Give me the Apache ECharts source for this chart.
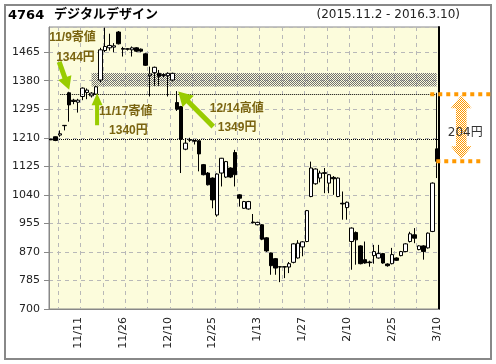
<!DOCTYPE html>
<html><head><meta charset="utf-8">
<script src="https://cdn.jsdelivr.net/npm/echarts@6/dist/echarts.min.js"></script>
<style>html,body{margin:0;padding:0;background:#fff}#c{width:496px;height:364px}</style>
</head><body><div id="c"></div>
<script>
// ---- data ----
const dates = ['11/2','11/4','11/5','11/6','11/9','11/10','11/11','11/12','11/13','11/16','11/17','11/18','11/19','11/20','11/24','11/25','11/26','11/27','11/30',
'12/1','12/2','12/3','12/4','12/7','12/8','12/9','12/10','12/11','12/14','12/15','12/16','12/17','12/18','12/21','12/22','12/24','12/25','12/28','12/29','12/30',
'1/4','1/5','1/6','1/7','1/8','1/12','1/13','1/14','1/15','1/18','1/19','1/20','1/21','1/22','1/25','1/26','1/27','1/28','1/29',
'2/1','2/2','2/3','2/4','2/5','2/8','2/9','2/10','2/12','2/15','2/16','2/17','2/18','2/19','2/22','2/23','2/24','2/25','2/26','2/29',
'3/1','3/2','3/3','3/4','3/7','3/8','3/9','3/10'];
const opens = [1206,1213,1218,1246,1344,1322,1316,1333,1345,1335,
1340,1382,1470,1478,1480,1525,1476,1475,1472,1478,
1474,1460,1395,1404,1402,1398,1395,1382,1315,1303,
1176,1204,1202,1201,1130,1105,1090,980,1105,1093,
1120,1166,1040,1000,998,959,951,951,912,867,
850,826,826,825,839,852,885,901,1035,1073,
1090,1106,1075,1092,1035,1015,1002,901,928,888,
847,840,859,852,865,834,835,852,859,871,
901,921,877,888,882,931,1177];
const closes = [1204,1202,1222,1247,1308,1318,1322,1358,1352,1343,
1362,1472,1482,1485,1484,1490,1474,1474,1478,1468,
1468,1426,1400,1420,1393,1396,1402,1402,1295,1206,
1194,1203,1200,1162,1100,1070,1025,1102,1149,1139,
1093,1100,1030,1020,1020,957,958,908,873,829,
822,825,825,835,894,896,900,993,1120,1117,
1105,1104,1100,1088,1090,1013,1018,941,906,835,
837,838,871,865,837,829,862,845,871,894,
924,911,888,871,926,1075,1140];
const lows = [1203,1200,1213,1232,1258,1310,1285,1322,1325,1330,
1338,1375,1465,1470,1465,1488,1452,1470,1452,1465,
1465,1424,1333,1365,1365,1390,1333,1378,1290,1105,
1173,1198,1190,1110,1098,1068,1000,975,1065,1090,
1090,1065,1005,998,996,955,949,905,870,802,
802,780,792,807,836,850,857,899,1033,1070,
1077,1045,1045,1040,1033,966,966,817,832,833,
835,826,835,850,835,826,833,843,857,869,
898,896,875,847,880,929,1090];
const highs = [1207,1214,1232,1248,1347,1326,1326,1360,1357,1346,
1364,1478,1538,1520,1492,1528,1481,1477,1482,1480,
1476,1462,1422,1422,1412,1402,1405,1404,1349,1305,
1209,1210,1203,1203,1132,1108,1092,1104,1150,1141,
1122,1174,1042,1022,1022,983,960,953,914,868,
852,827,827,840,896,905,902,995,1139,1119,
1112,1120,1102,1096,1092,1050,1020,943,931,890,
901,844,891,891,867,836,882,854,873,896,
930,941,890,890,928,1077,1344];
const yMin = 700, yMax = 1540, yStep = 85;
const resistLevel = 1341;      // dotted line (11/9 1344, 11/17 1340, 12/14 1349)
const refLevel = 1206;         // dotted reference line
const bandLow = 1363, bandHigh = 1403;
const lastClose = 1140;
const notes = [
  {i: 4, v: 1344, t1: '11/9寄値', t2: '1344円'},
  {i: 10, v: 1340, t1: '11/17寄値', t2: '1340円'},
  {i: 28, v: 1349, t1: '12/14高値', t2: '1349円'}
];
const diffText = '204円';

// ---- chart ----
const FONT = '"DejaVu Sans","Noto Sans CJK JP",sans-serif';
const LFONT = '"Liberation Sans","Noto Sans CJK JP",sans-serif';
function pattern(fg, bg) {
  const c = document.createElement('canvas'); c.width = 2; c.height = 2;
  const g = c.getContext('2d');
  if (bg) { g.fillStyle = bg; g.fillRect(0, 0, 2, 2); }
  g.fillStyle = fg; g.fillRect(0, 0, 1, 1); g.fillRect(1, 1, 1, 1);
  return {image: c, repeat: 'repeat'};
}
const chart = echarts.init(document.getElementById('c'), null, {renderer: 'canvas'});
const candles = dates.map((d, i) => [opens[i], closes[i], lows[i], highs[i]]);
chart.setOption({
  animation: false,
  grid: {left: 49, right: 57, top: 27, bottom: 55, show: true, backgroundColor: '#fcfcdc',
    borderColor: '#888', borderWidth: 1, containLabel: false, outerBoundsMode: 'none'},
  xAxis: {type: 'category', data: dates, boundaryGap: true,
    axisLine: {lineStyle: {color: '#888'}},
    axisTick: {interval: (i) => (i - 2) % 5 === 0, length: 4, lineStyle: {color: '#888'}},
    axisLabel: {interval: (i) => (i - 6) % 10 === 0, rotate: 90, fontSize: 11, fontFamily: FONT, color: '#222', margin: 8},
    splitLine: {show: true, interval: (i) => (i - 2) % 5 === 0, lineStyle: {color: '#b8b8b8', type: [4, 4]}}
  },
  yAxis: [
    {type: 'value', min: yMin, max: yMax, interval: yStep, scale: false,
      axisLine: {show: true, lineStyle: {color: '#888'}},
      axisTick: {show: true, length: 5, lineStyle: {color: '#888'}},
      axisLabel: {fontSize: 11, fontFamily: FONT, color: '#222', margin: 9, showMaxLabel: false,
        formatter: (v) => String(Math.round(v))},
      splitLine: {show: true, lineStyle: {color: '#b8b8b8', type: [4, 4]}}},
    {type: 'value', position: 'right', min: yMin, max: yMax, interval: yStep,
      axisLine: {show: true, lineStyle: {color: '#000', width: 2}},
      axisLabel: {show: false}, axisTick: {show: false}, splitLine: {show: false}}
  ],
  series: [{
    type: 'candlestick', data: candles, barWidth: 4,
    itemStyle: {color: '#fff', color0: '#000', borderColor: '#000', borderColor0: '#000', borderWidth: 1},
    markArea: {silent: true, itemStyle: {color: pattern('#707070')},
      data: [[{coord: [dates[9], bandLow]}, {coord: [dates[dates.length - 1], bandHigh]}]]},
    markLine: {silent: true, symbol: ['none', 'none'], label: {show: false},
      lineStyle: {type: [1, 1], color: '#000', width: 1},
      data: [
        [{coord: [dates[2], resistLevel]}, {coord: [dates[dates.length - 1], resistLevel]}],
        {yAxis: refLevel}
      ]}
  }]
});

// ---- annotations ----
const P = (i, v) => chart.convertToPixel({xAxisIndex: 0, yAxisIndex: 0}, [dates[i], v]);
function arrowPts(tail, tip, sw, hw, hl) {
  const dx = tip[0] - tail[0], dy = tip[1] - tail[1], L = Math.hypot(dx, dy);
  const ux = dx / L, uy = dy / L, nx = -uy, ny = ux;
  const bx = tip[0] - ux * hl, by = tip[1] - uy * hl;
  return [[tail[0] + nx * sw / 2, tail[1] + ny * sw / 2], [bx + nx * sw / 2, by + ny * sw / 2],
    [bx + nx * hw / 2, by + ny * hw / 2], tip, [bx - nx * hw / 2, by - ny * hw / 2],
    [bx - nx * sw / 2, by - ny * sw / 2], [tail[0] - nx * sw / 2, tail[1] - ny * sw / 2]];
}
const GREEN = '#99cc00', TXT = '#7a6410';
const g = [];
// outer frame
g.push({type: 'rect', shape: {x: 5, y: 5, width: 486, height: 354}, style: {fill: null, stroke: '#888', lineWidth: 2}, silent: true});
// title
g.push({type: 'text', left: 8, top: 9, style: {text: '4764', font: 'bold 13px ' + FONT, fill: '#000'}});
g.push({type: 'text', left: 54, top: 8, style: {text: 'デジタルデザイン', font: 'bold 13px ' + FONT, fill: '#000'}});
g.push({type: 'text', right: 36, top: 9, style: {text: '(2015.11.2 - 2016.3.10)', font: '12px ' + FONT, fill: '#222'}});
// green arrows + labels
const a0 = P(4, 1344), a1 = P(10, 1340), a2 = P(28, 1349);
const tip0 = [a0[0], a0[1] - 3], tip1 = [a1[0] + 1, a1[1] - 1], tip2 = [a2[0] + 1.5, a2[1] + 0.5];
g.push({type: 'polygon', shape: {points: arrowPts([tip0[0] - 10, tip0[1] - 28], tip0, 5, 14, 13)}, style: {fill: GREEN}, z: 100});
g.push({type: 'polygon', shape: {points: arrowPts([tip1[0], tip1[1] + 32], tip1, 4, 11, 12)}, style: {fill: GREEN}, z: 100});
g.push({type: 'polygon', shape: {points: arrowPts([tip2[0] + 35, tip2[1] + 35], tip2, 5, 16, 14)}, style: {fill: GREEN}, z: 100});
const lab = (x, y, t) => ({type: 'text', x: x, y: y, z: 100, style: {text: t, font: 'bold 12px ' + LFONT, fill: TXT, textVerticalAlign: 'middle'}});
g.push(lab(a0[0] - 20, a0[1] - 55, notes[0].t1));
g.push(lab(a0[0] - 13, a0[1] - 35, notes[0].t2));
g.push(lab(a1[0] + 3, a1[1] + 18, notes[1].t1));
g.push(lab(a1[0] + 13, a1[1] + 37, notes[1].t2));
g.push(lab(a2[0] + 33, a2[1] + 18, notes[2].t1));
g.push(lab(a2[0] + 41, a2[1] + 37, notes[2].t2));
// orange difference marker
const ORANGE = '#ff9900';
const rx = P(dates.length - 1, lastClose)[0] + 2.5; // right edge of plot
const yT = P(0, resistLevel)[1] + 0.5, yB = P(0, lastClose)[1];
g.push({type: 'line', shape: {x1: rx - 9, y1: yT, x2: rx + 51, y2: yT}, style: {stroke: ORANGE, lineWidth: 4, lineDash: [4, 4]}, z: 100});
g.push({type: 'line', shape: {x1: rx - 3, y1: yB, x2: rx + 42, y2: yB}, style: {stroke: ORANGE, lineWidth: 4, lineDash: [4, 4]}, z: 100});
const cx = rx + 22, hw = 10.5, sw = 5.3, hl = 13, t = yT + 1, b = yB - 2;
g.push({type: 'polygon', z: 99, shape: {points: [[cx, t], [cx + hw, t + hl], [cx + sw, t + hl], [cx + sw, b - hl], [cx + hw, b - hl], [cx, b], [cx - hw, b - hl], [cx - sw, b - hl], [cx - sw, t + hl], [cx - hw, t + hl]]},
  style: {fill: pattern(ORANGE)}});
g.push({type: 'text', z: 101, x: cx + 4, y: (yT + yB) / 2 + 5, style: {text: diffText, font: '12px ' + FONT, fill: '#333', textAlign: 'center', textVerticalAlign: 'middle'}});
chart.setOption({graphic: g});
</script>
</body></html>
